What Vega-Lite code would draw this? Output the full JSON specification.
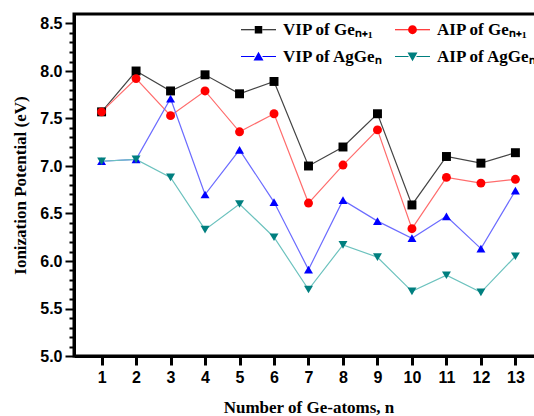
{
  "$schema": "https://vega.github.io/schema/vega-lite/v6.json",
  "width": 469,
  "height": 342,
  "autosize": {"type": "none"},
  "padding": {"left": 74, "top": 14, "right": 0, "bottom": 60},
  "background": "white",
  "config": {
    "view": {"stroke": "black", "strokeWidth": 3},
    "axis": {
      "grid": false,
      "ticks": true,
      "domainColor": "black",
      "domainWidth": 3,
      "tickColor": "black",
      "tickWidth": 2,
      "labelFont": "Liberation Sans",
      "labelFontWeight": "bold",
      "labelFontSize": 16,
      "labelColor": "black",
      "titleFont": "Liberation Serif",
      "titleFontWeight": "bold",
      "titleFontSize": 17,
      "titleColor": "black"
    }
  },
  "data": {
    "values": [
      {"n": 1, "series": "VIP of Geₙ₊₁", "ip": 7.57},
      {"n": 2, "series": "VIP of Geₙ₊₁", "ip": 8.00},
      {"n": 3, "series": "VIP of Geₙ₊₁", "ip": 7.79},
      {"n": 4, "series": "VIP of Geₙ₊₁", "ip": 7.96},
      {"n": 5, "series": "VIP of Geₙ₊₁", "ip": 7.76},
      {"n": 6, "series": "VIP of Geₙ₊₁", "ip": 7.89},
      {"n": 7, "series": "VIP of Geₙ₊₁", "ip": 7.00},
      {"n": 8, "series": "VIP of Geₙ₊₁", "ip": 7.20},
      {"n": 9, "series": "VIP of Geₙ₊₁", "ip": 7.55},
      {"n": 10, "series": "VIP of Geₙ₊₁", "ip": 6.59},
      {"n": 11, "series": "VIP of Geₙ₊₁", "ip": 7.10},
      {"n": 12, "series": "VIP of Geₙ₊₁", "ip": 7.03},
      {"n": 13, "series": "VIP of Geₙ₊₁", "ip": 7.14},
      {"n": 1, "series": "AIP of Geₙ₊₁", "ip": 7.57},
      {"n": 2, "series": "AIP of Geₙ₊₁", "ip": 7.92},
      {"n": 3, "series": "AIP of Geₙ₊₁", "ip": 7.53},
      {"n": 4, "series": "AIP of Geₙ₊₁", "ip": 7.79},
      {"n": 5, "series": "AIP of Geₙ₊₁", "ip": 7.36},
      {"n": 6, "series": "AIP of Geₙ₊₁", "ip": 7.55},
      {"n": 7, "series": "AIP of Geₙ₊₁", "ip": 6.61},
      {"n": 8, "series": "AIP of Geₙ₊₁", "ip": 7.01},
      {"n": 9, "series": "AIP of Geₙ₊₁", "ip": 7.38},
      {"n": 10, "series": "AIP of Geₙ₊₁", "ip": 6.34},
      {"n": 11, "series": "AIP of Geₙ₊₁", "ip": 6.88},
      {"n": 12, "series": "AIP of Geₙ₊₁", "ip": 6.82},
      {"n": 13, "series": "AIP of Geₙ₊₁", "ip": 6.86},
      {"n": 1, "series": "VIP of AgGeₙ", "ip": 7.05},
      {"n": 2, "series": "VIP of AgGeₙ", "ip": 7.07},
      {"n": 3, "series": "VIP of AgGeₙ", "ip": 7.71},
      {"n": 4, "series": "VIP of AgGeₙ", "ip": 6.70},
      {"n": 5, "series": "VIP of AgGeₙ", "ip": 7.17},
      {"n": 6, "series": "VIP of AgGeₙ", "ip": 6.62},
      {"n": 7, "series": "VIP of AgGeₙ", "ip": 5.91},
      {"n": 8, "series": "VIP of AgGeₙ", "ip": 6.64},
      {"n": 9, "series": "VIP of AgGeₙ", "ip": 6.42},
      {"n": 10, "series": "VIP of AgGeₙ", "ip": 6.24},
      {"n": 11, "series": "VIP of AgGeₙ", "ip": 6.47},
      {"n": 12, "series": "VIP of AgGeₙ", "ip": 6.13},
      {"n": 13, "series": "VIP of AgGeₙ", "ip": 6.74},
      {"n": 1, "series": "AIP of AgGeₙ", "ip": 7.05},
      {"n": 2, "series": "AIP of AgGeₙ", "ip": 7.07},
      {"n": 3, "series": "AIP of AgGeₙ", "ip": 6.88},
      {"n": 4, "series": "AIP of AgGeₙ", "ip": 6.33},
      {"n": 5, "series": "AIP of AgGeₙ", "ip": 6.60},
      {"n": 6, "series": "AIP of AgGeₙ", "ip": 6.25},
      {"n": 7, "series": "AIP of AgGeₙ", "ip": 5.70},
      {"n": 8, "series": "AIP of AgGeₙ", "ip": 6.17},
      {"n": 9, "series": "AIP of AgGeₙ", "ip": 6.04},
      {"n": 10, "series": "AIP of AgGeₙ", "ip": 5.68},
      {"n": 11, "series": "AIP of AgGeₙ", "ip": 5.85},
      {"n": 12, "series": "AIP of AgGeₙ", "ip": 5.67},
      {"n": 13, "series": "AIP of AgGeₙ", "ip": 6.05}
    ]
  },
  "encoding": {
    "x": {
      "field": "n",
      "type": "quantitative",
      "scale": {"domain": [0.2, 13.8], "nice": false, "zero": false},
      "axis": {
        "values": [1, 2, 3, 4, 5, 6, 7, 8, 9, 10, 11, 12, 13],
        "tickSize": 9,
        "tickWidth": 3,
        "labelPadding": 4,
        "title": "Number of Ge-atoms, n",
        "titlePadding": 14
      }
    },
    "y": {
      "field": "ip",
      "type": "quantitative",
      "scale": {"domain": [5, 8.6], "nice": false, "zero": false},
      "axis": {
        "values": [5.0, 5.1, 5.2, 5.3, 5.4, 5.5, 5.6, 5.7, 5.8, 5.9, 6.0, 6.1, 6.2, 6.3, 6.4, 6.5, 6.6, 6.7, 6.8, 6.9, 7.0, 7.1, 7.2, 7.3, 7.4, 7.5, 7.6, 7.7, 7.8, 7.9, 8.0, 8.1, 8.2, 8.3, 8.4, 8.5],
        "labelExpr": "abs(datum.value * 2 - round(datum.value * 2)) < 0.001 ? format(datum.value, '.1f') : ''",
        "labelOverlap": false,
        "labelFontWeight": "bold",
        "tickSize": {"condition": {"test": "abs(datum.value * 2 - round(datum.value * 2)) < 0.001", "value": 9}, "value": 5},
        "labelPadding": 3,
        "title": "Ionization Potential (eV)",
        "titlePadding": 10
      }
    }
  },
  "layer": [
    {
      "mark": {"type": "line", "strokeWidth": 1.2},
      "encoding": {
        "stroke": {
          "field": "series",
          "type": "nominal",
          "scale": {
            "domain": ["VIP of Geₙ₊₁", "AIP of Geₙ₊₁", "VIP of AgGeₙ", "AIP of AgGeₙ"],
            "range": ["#444444", "#ff6c6c", "#6c6cff", "#6cc2be"]
          },
          "legend": null
        }
      }
    },
    {
      "mark": {"type": "point", "filled": true, "size": 80, "opacity": 1},
      "encoding": {
        "color": {
          "field": "series",
          "type": "nominal",
          "scale": {
            "domain": ["VIP of Geₙ₊₁", "AIP of Geₙ₊₁", "VIP of AgGeₙ", "AIP of AgGeₙ"],
            "range": ["#000000", "#ff0000", "#0000ff", "#007f7f"]
          },
          "legend": null
        },
        "shape": {
          "field": "series",
          "type": "nominal",
          "scale": {
            "domain": ["VIP of Geₙ₊₁", "AIP of Geₙ₊₁", "VIP of AgGeₙ", "AIP of AgGeₙ"],
            "range": ["square", "circle", "triangle-up", "triangle-down"]
          },
          "legend": null
        }
      }
    },
    {
      "transform": [{"filter": "datum.n < 0"}],
      "mark": {"type": "point", "filled": true, "size": 100, "opacity": 1},
      "encoding": {
        "color": {
          "field": "series",
          "type": "nominal",
          "scale": {
            "domain": ["VIP of Geₙ₊₁", "VIP of AgGeₙ", "AIP of Geₙ₊₁", "AIP of AgGeₙ"],
            "range": ["#000000", "#0000ff", "#ff0000", "#007f7f"]
          },
          "legend": {
            "title": null,
            "orient": "none",
            "legendX": 176,
            "legendY": 7,
            "columns": 2,
            "columnPadding": 11,
            "rowPadding": 9,
            "padding": 0,
            "symbolSize": 100,
            "symbolStrokeWidth": 0,
            "symbolOffset": 0,
            "labelOffset": 16,
            "labelFont": "Liberation Serif",
            "labelFontWeight": "bold",
            "labelFontSize": 17,
            "labelColor": "black",
            "labelLimit": 300
          }
        },
        "shape": {
          "field": "series",
          "type": "nominal",
          "scale": {
            "domain": ["VIP of Geₙ₊₁", "VIP of AgGeₙ", "AIP of Geₙ₊₁", "AIP of AgGeₙ"],
            "range": [
              "M-3.5,-0.1H-0.8V0.1H-3.5ZM0.8,-0.1H3.5V0.1H0.8ZM-0.75,-0.75H0.75V0.75H-0.75Z",
              "M-3.5,-0.1H-0.8V0.1H-3.5ZM0.8,-0.1H3.5V0.1H0.8ZM0,-0.95L1,0.8L-1,0.8Z",
              "M-3.5,-0.1H-0.8V0.1H-3.5ZM0.8,-0.1H3.5V0.1H0.8ZM0.88,0A0.88,0.88,0,1,1,-0.88,0A0.88,0.88,0,1,1,0.88,0Z",
              "M-3.5,-0.1H-0.8V0.1H-3.5ZM0.8,-0.1H3.5V0.1H0.8ZM0,0.95L1,-0.8L-1,-0.8Z"
            ]
          },
          "legend": {
            "title": null,
            "orient": "none",
            "legendX": 176,
            "legendY": 7,
            "columns": 2,
            "columnPadding": 11,
            "rowPadding": 9,
            "padding": 0,
            "symbolSize": 100,
            "symbolStrokeWidth": 0,
            "symbolOffset": 0,
            "labelOffset": 16,
            "labelFont": "Liberation Serif",
            "labelFontWeight": "bold",
            "labelFontSize": 17,
            "labelColor": "black",
            "labelLimit": 300
          }
        }
      }
    }
  ],
  "resolve": {"scale": {"color": "independent", "stroke": "independent", "shape": "independent"}}
}
